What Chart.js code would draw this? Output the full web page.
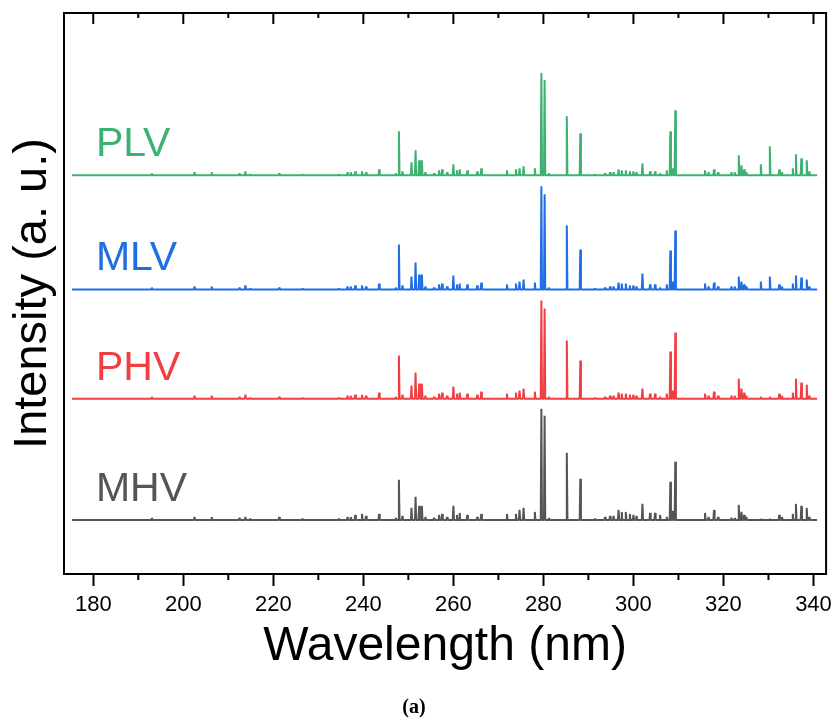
<!DOCTYPE html>
<html>
<head>
<meta charset="utf-8">
<title>Spectra</title>
<script src="https://cdn.jsdelivr.net/npm/chart.js@4.4.0/dist/chart.umd.min.js"></script>
<style>
    body { margin: 0; background: #fff; }
</style>
</head>
<body>
<canvas id="myChart" width="838" height="723"></canvas>
<script>
// data

const seriesNames = ['PLV', 'MLV', 'PHV', 'MHV'];
const seriesColors = ['rgb(60, 177, 112)', 'rgb(30, 110, 228)', 'rgb(240, 62, 66)', 'rgb(85, 85, 85)'];
const seriesOffset = [398, 284, 175, 54];

const xTicks = [180, 200, 220, 240, 260, 280, 300, 320, 340];
const xMinorTicks = [190, 210, 230, 250, 270, 290, 310, 330];

// emission lines (nm)
const lineNm = [
    193.0, 202.5, 206.3, 212.5, 213.8, 214.9, 221.3, 226.5, 234.6, 236.5,
    237.2, 238.2, 239.7, 240.6, 243.5, 247.2, 247.9, 248.7, 250.7, 251.6,
    252.4, 253.0, 253.8, 255.7, 256.8, 257.5, 258.6, 260.0, 260.8, 261.4,
    263.1, 265.3, 266.2, 271.9, 273.9, 274.7, 275.6, 278.1, 279.55, 280.27,
    281.2, 285.2, 288.2, 291.5, 293.7, 294.8, 295.6, 296.7, 297.4, 298.3,
    299.2, 300.0, 300.7, 302.0, 303.7, 304.8, 305.9, 307.4, 308.2, 308.8,
    309.3, 315.9, 316.7, 317.9, 318.8, 321.8, 322.5, 323.4, 324.0, 324.6,
    325.1, 328.3, 330.3, 332.4, 333.0, 335.4, 336.1, 337.3, 338.5, 339.1
];

const plvHeights = [
    2, 3, 3, 2, 4, 1, 2, 1, 1, 3,
    3, 4, 4, 3, 6, 2, 44, 4, 13, 25,
    15, 15, 3, 2, 5, 6, 3, 11, 5, 6,
    5, 4, 7, 5, 6, 7, 9, 7, 102, 95,
    2, 59, 42, 1, 2, 3, 3, 6, 5, 5,
    4, 4, 3, 12, 4, 4, 2, 5, 44, 7,
    65, 5, 3, 6, 3, 3, 3, 20, 10, 6,
    3, 11, 29, 6, 3, 7, 21, 17, 15, 4
];

const mlvHeights = [
    2, 3, 3, 2, 4, 1, 2, 1, 1, 3,
    3, 4, 4, 3, 6, 2, 45, 4, 13, 27,
    15, 15, 3, 2, 5, 6, 3, 14, 5, 6,
    5, 4, 7, 5, 6, 8, 10, 7, 103, 95,
    2, 64, 40, 1, 2, 3, 3, 7, 6, 6,
    4, 4, 3, 16, 5, 5, 2, 5, 39, 8,
    59, 6, 3, 7, 3, 3, 3, 13, 8, 5,
    3, 8, 13, 5, 3, 6, 14, 12, 10, 3
];

const phvHeights = [
    2, 3, 3, 2, 4, 1, 2, 1, 1, 3,
    3, 4, 4, 3, 6, 2, 43, 4, 13, 26,
    15, 15, 3, 2, 5, 6, 3, 12, 5, 6,
    5, 4, 7, 5, 6, 8, 10, 7, 98, 90,
    2, 58, 38, 1, 2, 3, 3, 6, 5, 5,
    4, 4, 3, 10, 5, 5, 2, 5, 47, 8,
    66, 5, 3, 7, 3, 3, 3, 20, 10, 6,
    3, 2, 2, 5, 3, 6, 20, 16, 14, 3
];

const mhvHeights = [
    2, 3, 3, 2, 3, 1, 3, 1, 1, 3,
    3, 5, 6, 4, 6, 2, 40, 4, 12, 23,
    14, 14, 3, 2, 5, 6, 3, 14, 5, 7,
    5, 3, 6, 6, 6, 10, 12, 8, 111, 104,
    2, 67, 41, 1, 3, 4, 4, 10, 8, 8,
    6, 5, 4, 16, 7, 7, 5, 3, 38, 9,
    58, 7, 3, 10, 3, 2, 2, 15, 8, 5,
    3, 1, 1, 5, 3, 6, 16, 14, 12, 3
];

const spectrumRange = [175.3, 340.8];

// function

function buildSpectrum(heights, offset) {
    const points = [{x: spectrumRange[0], y: offset}];
    for (let i = 0; i < lineNm.length; i++) {
        points.push({x: lineNm[i] - 0.14, y: offset});
        points.push({x: lineNm[i], y: offset + heights[i]});
        points.push({x: lineNm[i] + 0.14, y: offset});
    }
    points.push({x: spectrumRange[1], y: offset});
    points.sort((a, b) => a.x - b.x);
    return points;
}

const allHeights = [plvHeights, mlvHeights, phvHeights, mhvHeights];

const frameAndLabels = {
    id: 'frameAndLabels',
    afterDraw(chart) {
        const ctx = chart.ctx;
        const area = chart.chartArea;
        const xs = chart.scales.x;
        const ys = chart.scales.y;

        ctx.save();
        ctx.strokeStyle = '#000';
        ctx.lineWidth = 2;
        ctx.beginPath();
        ctx.moveTo(area.left, area.top);
        ctx.lineTo(area.right, area.top);
        ctx.lineTo(area.right, area.bottom);
        ctx.stroke();

        // ticks on top (inside) and minor ticks at bottom
        ctx.beginPath();
        for (let v of xTicks) {
            const px = xs.getPixelForValue(v);
            ctx.moveTo(px, area.top);
            ctx.lineTo(px, area.top + 11);
        }
        for (let v of xMinorTicks) {
            const px = xs.getPixelForValue(v);
            ctx.moveTo(px, area.top);
            ctx.lineTo(px, area.top + 5);
            ctx.moveTo(px, area.bottom);
            ctx.lineTo(px, area.bottom + 6);
        }
        ctx.stroke();

        // series names
        ctx.font = '41px "Liberation Sans", Arial, sans-serif';
        ctx.textAlign = 'left';
        ctx.textBaseline = 'alphabetic';
        for (let i = 0; i < seriesNames.length; i++) {
            ctx.fillStyle = seriesColors[i];
            ctx.fillText(seriesNames[i], xs.getPixelForValue(180.6), ys.getPixelForValue(seriesOffset[i] + 19));
        }
        ctx.restore();
    }
};

function showChart() {
    const ctx = document.getElementById('myChart');
    const datasets = [];
    for (let i = 0; i < seriesNames.length; i++) {
        datasets.push({
            label: seriesNames[i],
            data: buildSpectrum(allHeights[i], seriesOffset[i]),
            borderColor: seriesColors[i],
            borderWidth: 2,
            borderJoinStyle: 'bevel',
            pointRadius: 0,
            tension: 0,
            fill: false
        });
    }

    const myChart = new Chart(ctx, {
        type: 'line',
        data: { datasets: datasets },
        options: {
            responsive: false,
            animation: false,
            layout: { padding: { top: 13, right: 10, left: 0, bottom: 0 } },
            plugins: {
                legend: { display: false },
                tooltip: { enabled: false },
                title: {
                    display: true,
                    position: 'bottom',
                    text: '(a)',
                    color: '#000',
                    font: { family: '"Liberation Serif", "DejaVu Serif", serif', weight: 'bold', size: 20 },
                    padding: { top: 0, bottom: 3 }
                }
            },
            scales: {
                x: {
                    type: 'linear',
                    min: 173.5,
                    max: 342.8,
                    afterBuildTicks: function (scale) {
                        scale.ticks = xTicks.map(v => ({ value: v }));
                    },
                    afterFit: function (scale) {
                        scale.height = 122;
                    },
                    ticks: {
                        color: '#000',
                        padding: 6,
                        maxRotation: 0,
                        font: { family: '"Liberation Sans", Arial, sans-serif', size: 22 }
                    },
                    grid: {
                        drawOnChartArea: false,
                        tickLength: 12,
                        tickWidth: 2,
                        tickColor: '#000'
                    },
                    border: { display: true, color: '#000', width: 2 },
                    title: {
                        display: true,
                        text: 'Wavelength (nm)',
                        color: '#000',
                        font: { family: '"Liberation Sans", Arial, sans-serif', size: 48 },
                        padding: { top: 0, bottom: 20 }
                    }
                },
                y: {
                    min: 0,
                    max: 560,
                    afterFit: function (scale) {
                        scale.width = 64;
                    },
                    ticks: { display: false },
                    grid: { display: false },
                    border: { display: true, color: '#000', width: 2 },
                    title: {
                        display: true,
                        text: 'Intensity (a. u.)',
                        color: '#000',
                        font: { family: '"Liberation Sans", Arial, sans-serif', size: 47 },
                        padding: { top: 5, bottom: 0 }
                    }
                }
            }
        },
        plugins: [frameAndLabels]
    });
}

showChart();
</script>
</body>
</html>
